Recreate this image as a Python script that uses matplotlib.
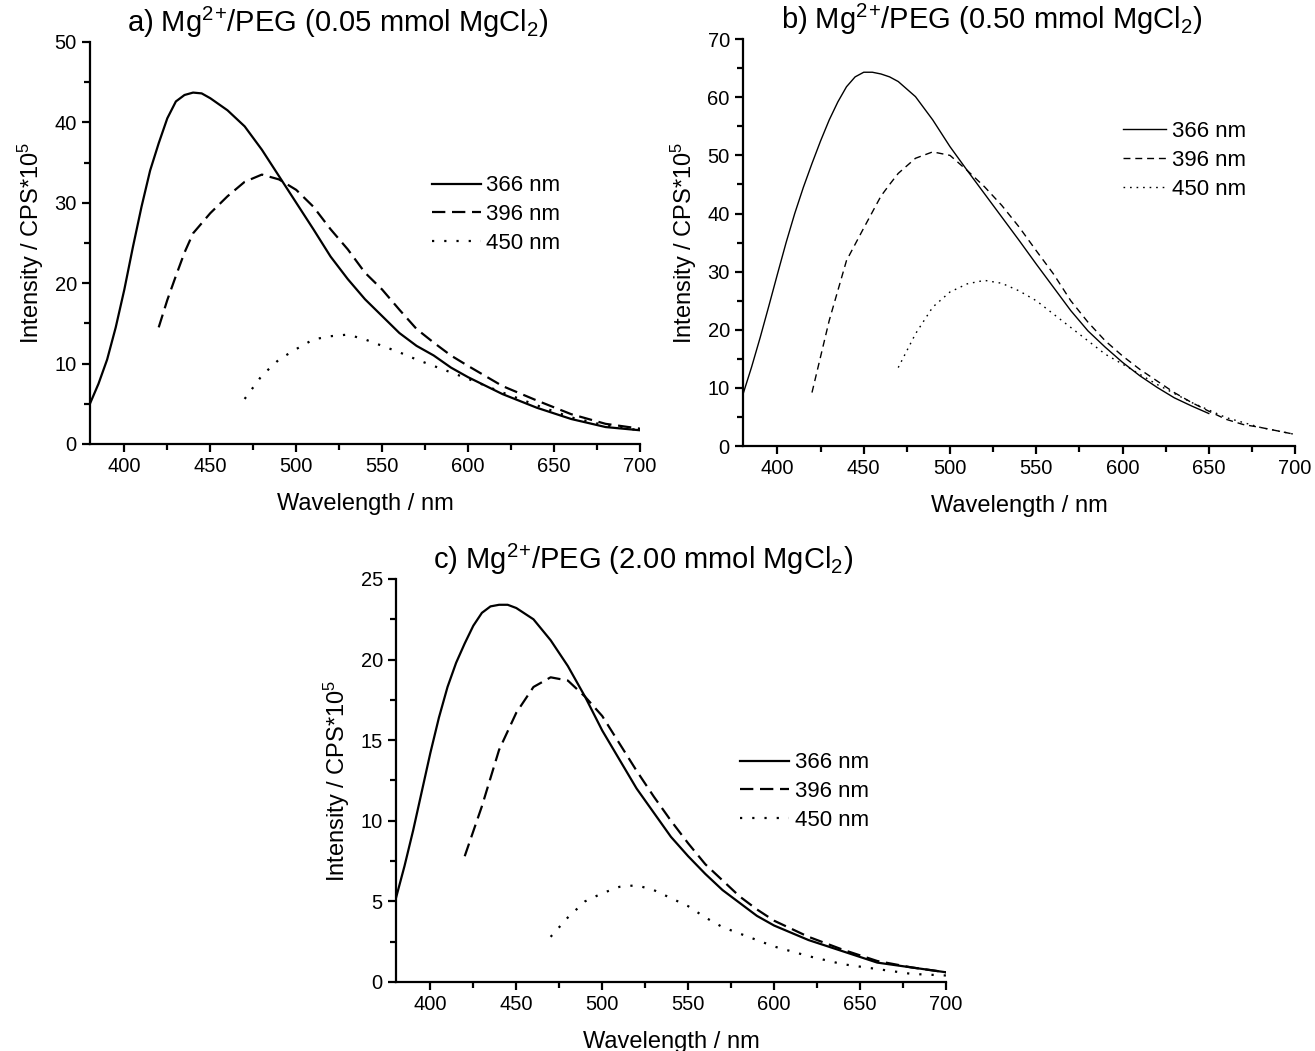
import numpy as np
import matplotlib.pyplot as plt
from matplotlib.ticker import MultipleLocator

plt.rcParams['font.family'] = ['Liberation Sans', 'DejaVu Sans']
plt.rcParams['mathtext.fontset'] = 'custom'
plt.rcParams['mathtext.rm'] = 'Liberation Sans'
plt.rcParams['mathtext.it'] = 'Liberation Sans:italic'

# panel a) 0.05 mmol MgCl2
wl_a_366 = [380, 385, 390, 395, 400, 405, 410, 415, 420, 425, 430, 435, 440, 445, 450, 460, 470,
            480, 490, 500, 510, 520, 530, 540, 550, 560, 570, 580, 590, 600, 620, 640, 660, 680, 700]
int_a_366 = [5.0, 7.5, 10.5, 14.5, 19.2, 24.5, 29.5, 34.0, 37.4, 40.5, 42.6, 43.4, 43.7, 43.6, 43.0,
             41.5, 39.5, 36.6, 33.3, 30.0, 26.7, 23.3, 20.5, 18.0, 15.9, 13.8, 12.2, 11.0, 9.5,
             8.3, 6.2, 4.5, 3.1, 2.1, 1.7]
wl_a_396 = [420, 425, 430, 435, 440, 450, 460, 470, 480, 490, 500, 510, 520, 530, 540, 550, 560,
            570, 580, 590, 600, 620, 640, 660, 680, 700]
int_a_396 = [14.5, 17.9, 20.9, 23.8, 26.2, 28.7, 30.8, 32.6, 33.5, 32.9, 31.6, 29.5, 26.7, 24.2,
             21.3, 19.2, 16.7, 14.3, 12.6, 11.0, 9.7, 7.2, 5.4, 3.7, 2.5, 1.9]
wl_a_450 = [470, 480, 490, 500, 510, 520, 530, 540, 550, 560, 570, 580, 590, 600, 620, 640, 660,
            680, 700]
int_a_450 = [5.6, 8.5, 10.5, 11.8, 13.0, 13.4, 13.6, 13.0, 12.2, 11.4, 10.5, 9.7, 8.9, 8.1, 6.4,
             4.8, 3.3, 2.3, 1.7]

# panel b) 0.50 mmol MgCl2
wl_b_366 = [380, 385, 390, 395, 400, 405, 410, 415, 420, 425, 430, 435, 440, 445, 450, 455, 460,
            465, 470, 480, 490, 500, 510, 520, 530, 540, 550, 560, 570, 580, 590, 600, 610, 620,
            630, 640, 650]
int_b_366 = [8.9, 13.6, 18.7, 24.1, 29.6, 35.0, 40.0, 44.5, 48.6, 52.5, 56.1, 59.2, 61.8, 63.5,
             64.3, 64.3, 64.0, 63.5, 62.7, 60.1, 56.1, 51.5, 47.4, 43.4, 39.4, 35.4, 31.3, 27.3,
             23.3, 19.8, 17.0, 14.4, 12.1, 10.1, 8.3, 6.9, 5.6]
wl_b_396 = [420, 430, 440, 450, 460, 465, 470, 480, 490, 500, 510, 520, 530, 540, 550, 560, 570,
            580, 590, 600, 610, 620, 630, 640, 650, 660, 670, 680, 690, 700]
int_b_396 = [9.2, 21.6, 31.9, 37.5, 43.0, 45.0, 46.9, 49.5, 50.6, 50.0, 47.4, 44.6, 41.4, 37.7,
             33.6, 29.6, 25.0, 21.3, 18.1, 15.5, 13.2, 11.2, 9.2, 7.5, 6.0, 4.6, 3.7, 3.2, 2.6, 2.0]
wl_b_450 = [470, 480, 490, 500, 510, 520, 530, 540, 550, 560, 570, 580, 590, 600, 620, 640, 660,
            680, 700]
int_b_450 = [13.5, 19.3, 23.9, 26.5, 27.9, 28.5, 28.0, 26.7, 25.0, 22.7, 20.4, 18.1, 15.8, 14.1,
             10.6, 7.5, 4.9, 3.2, 2.0]

# panel c) 2.00 mmol MgCl2
wl_c_366 = [380, 385, 390, 395, 400, 405, 410, 415, 420, 425, 430, 435, 440, 445, 450, 460, 470,
            480, 490, 500, 510, 520, 530, 540, 550, 560, 570, 580, 590, 600, 620, 640, 660, 680, 700]
int_c_366 = [5.2, 7.2, 9.4, 11.8, 14.2, 16.4, 18.3, 19.8, 21.0, 22.1, 22.9, 23.3, 23.4, 23.4, 23.2,
             22.5, 21.2, 19.6, 17.7, 15.6, 13.8, 12.0, 10.5, 9.0, 7.8, 6.7, 5.7, 4.9, 4.1, 3.5,
             2.6, 1.9, 1.2, 0.9, 0.6]
wl_c_396 = [420, 430, 440, 450, 460, 470, 480, 490, 500, 510, 520, 530, 540, 550, 560, 570, 580,
            590, 600, 620, 640, 660, 680, 700]
int_c_396 = [7.8, 10.9, 14.4, 16.7, 18.3, 18.9, 18.7, 17.7, 16.5, 14.8, 13.1, 11.5, 10.0, 8.6,
             7.3, 6.3, 5.3, 4.5, 3.8, 2.8, 2.0, 1.3, 0.9, 0.6]
wl_c_450 = [470, 480, 490, 500, 510, 520, 530, 540, 550, 560, 570, 580, 590, 600, 620, 640, 660,
            680, 700]
int_c_450 = [2.8, 4.0, 5.0, 5.5, 5.9, 6.0, 5.7, 5.2, 4.7, 4.0, 3.4, 3.0, 2.6, 2.2, 1.6, 1.1, 0.8,
             0.5, 0.4]

labels = ["366 nm", "396 nm", "450 nm"]
titles = [r"a) Mg$^{2}$$^{+}$/PEG (0.05 mmol MgCl$_{\mathrm{2}}$)",
          r"b) Mg$^{2}$$^{+}$/PEG (0.50 mmol MgCl$_{\mathrm{2}}$)",
          r"c) Mg$^{2}$$^{+}$/PEG (2.00 mmol MgCl$_{\mathrm{2}}$)"]

fig = plt.figure(figsize=(13.15, 10.51), dpi=100)
ax_a = fig.add_axes([0.0684, 0.5776, 0.4183, 0.3825])
ax_b = fig.add_axes([0.5650, 0.5756, 0.4198, 0.3872])
ax_c = fig.add_axes([0.3011, 0.0657, 0.4183, 0.3834])


def draw_panel(ax, series, title, ymax, ymajor, yminor, lw, dash, dot, leg_xy, hlen):
    styles = ["-", (0, dash), (0, dot)]
    for (wl, val), ls, lab in zip(series, styles, labels):
        ax.plot(wl, val, color="black", lw=lw, linestyle=ls, label=lab)
    ax.set_xlim(380, 700)
    ax.set_ylim(0, ymax)
    ax.xaxis.set_major_locator(MultipleLocator(50))
    ax.xaxis.set_minor_locator(MultipleLocator(25))
    ax.yaxis.set_major_locator(MultipleLocator(ymajor))
    ax.yaxis.set_minor_locator(MultipleLocator(yminor))
    for s in ["top", "right"]:
        ax.spines[s].set_visible(False)
    for s in ["left", "bottom"]:
        ax.spines[s].set_linewidth(1.6)
    ax.tick_params(which="major", direction="out", length=6, width=1.6, labelsize=14.5)
    ax.tick_params(which="minor", direction="out", length=4, width=1.6)
    ax.set_xlabel("Wavelength / nm", fontsize=17, labelpad=12)
    ax.set_ylabel(r"Intensity / CPS*10$^{\mathrm{5}}$", fontsize=17, labelpad=6)
    ax.text(0.45, 1.005, title, transform=ax.transAxes, ha="center", va="bottom", fontsize=21)
    ax.legend(loc="upper left", bbox_to_anchor=leg_xy, frameon=False, fontsize=16,
              handlelength=hlen, handletextpad=0.25, labelspacing=0.35, borderaxespad=0)


draw_panel(ax_a, [(wl_a_366, int_a_366), (wl_a_396, int_a_396), (wl_a_450, int_a_450)],
           titles[0], 50, 10, 5, 1.6, (6, 3), (1, 4.5), (0.605, 0.69), 2.2)
draw_panel(ax_b, [(wl_b_366, int_b_366), (wl_b_396, int_b_396), (wl_b_450, int_b_450)],
           titles[1], 70, 10, 5, 1.0, (5, 3.5), (1.2, 3.5), (0.672, 0.82), 1.95)
draw_panel(ax_c, [(wl_c_366, int_c_366), (wl_c_396, int_c_396), (wl_c_450, int_c_450)],
           titles[2], 25, 5, 2.5, 1.6, (6, 3), (1, 4.5), (0.61, 0.592), 2.2)

fig.savefig("out.png", dpi=100)
